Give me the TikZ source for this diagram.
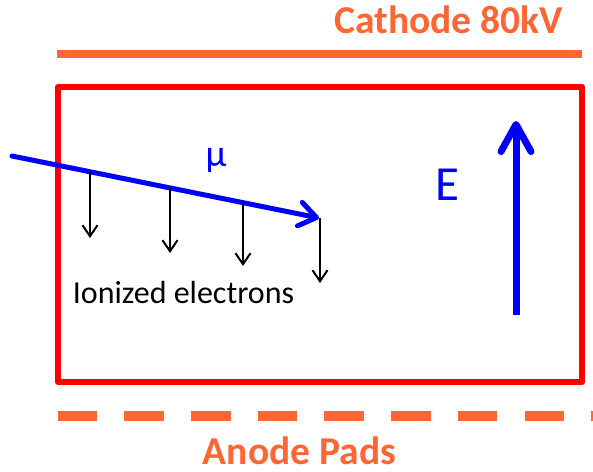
\documentclass[tikz,border=0pt]{standalone}
\usepackage{fontspec}
\setmainfont{Carlito}
\usetikzlibrary{arrows.meta}
\definecolor{cathode}{HTML}{FF6633}
\definecolor{boxred}{HTML}{FF0000}
\definecolor{fieldblue}{HTML}{0000FF}
\tikzset{
  lbl/.style={inner sep=0pt, anchor=base},
  orangelbl/.style={lbl, text=cathode, font=\fontsize{39.5}{41}\selectfont\bfseries},
  chamber/.style={draw=boxred, line width=6pt, line join=round},
  electrode/.style={draw=cathode, line width=7.5pt},
  pads/.style={draw=cathode, line width=10.5pt, dash pattern=on 39.5pt off 27.2pt},
  muon/.style={draw=fieldblue, line width=5pt, line cap=round,
    -{Straight Barb[length=17pt,width=24pt,line cap=round,line join=round]}},
  efield/.style={draw=fieldblue, line width=7pt,
    -{Straight Barb[length=27pt,width=30pt,line cap=round,line join=round]}},
  drift/.style={draw=black, line width=2pt,
    -{Straight Barb[length=11pt,width=15pt]}}
}
\begin{document}
\begin{tikzpicture}[x=1pt,y=-1pt]
\useasboundingbox (0,0) rectangle (593,471);
% labels
\node[orangelbl] (cat) at (448.5,33) {Cathode 80kV};
\node[orangelbl] (ano) at (299.5,464) {Anode Pads};
% cathode plane
\coordinate (cl) at (57,54);
\coordinate (cr) at (582,54);
\draw[electrode] (cl) -- (cr);
% chamber
\coordinate (bl) at (58,382);
\coordinate (tr) at (582,87);
\draw[chamber] (bl) rectangle (tr);
% anode pads
\coordinate (al) at (57.6,416);
\coordinate (ar) at (600,416);
\draw[pads] (al) -- (ar);
% E field
\coordinate (e0) at (516,315);
\coordinate (e1) at (516,121);
\draw[efield] (e0) -- (e1);
\node[lbl, text=fieldblue, font=\fontsize{49}{51}\selectfont] (E) at (447,200) {E};
% muon track
\coordinate (m0) at (12,156);
\coordinate (m1) at (319,218);
\draw[muon] (m0) -- (m1);
\node[lbl, text=fieldblue, font=\fontsize{38}{40}\selectfont] (mu) at (216,166) {µ};
% ionization points and drift arrows
\coordinate (s1) at (90,171.7);
\coordinate (s2) at (170,187.8);
\coordinate (s3) at (243,202.5);
\coordinate (s4) at (320,218);
\coordinate (d1) at (90,238);
\coordinate (d2) at (170,253);
\coordinate (d3) at (243,266);
\coordinate (d4) at (320,283);
\draw[drift] (s1) -- (d1);
\draw[drift] (s2) -- (d2);
\draw[drift] (s3) -- (d3);
\draw[drift] (s4) -- (d4);
\node[lbl, font=\fontsize{32}{34}\selectfont] (ion) at (183.5,303) {Ionized electrons};
\end{tikzpicture}
\end{document}
